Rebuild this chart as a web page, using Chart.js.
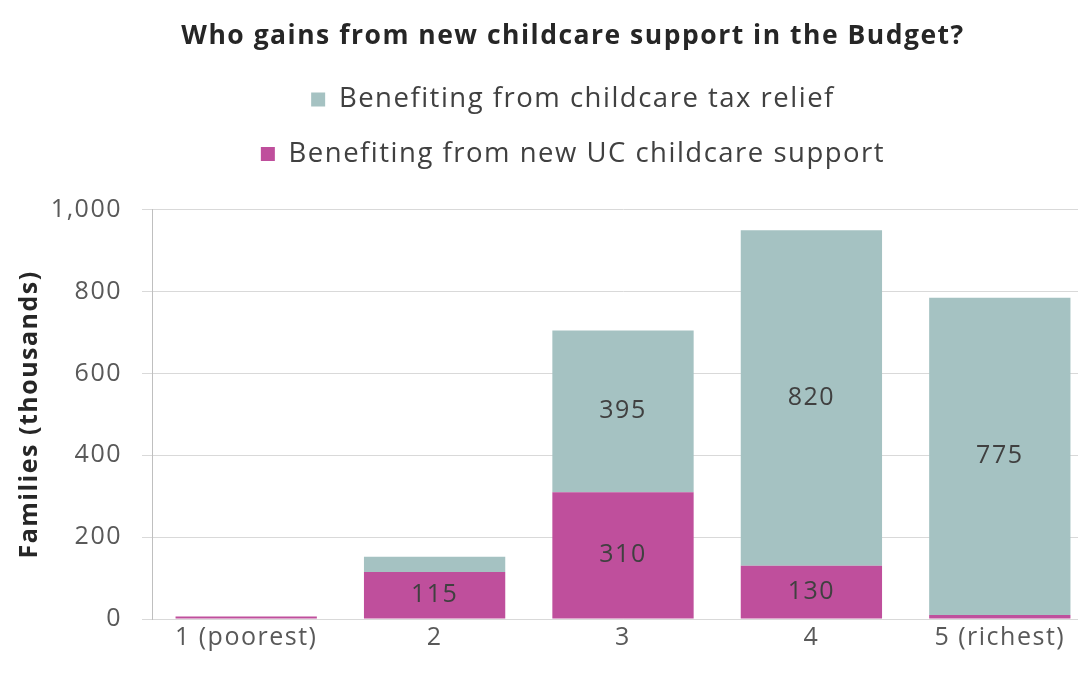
<!DOCTYPE html>
<html>
<head>
<meta charset="utf-8">
<script src="https://cdn.jsdelivr.net/npm/chart.js@4"></script>
<style>
  html, body { margin: 0; padding: 0; background: #fff; overflow: hidden; }
</style>
</head>
<body>
<canvas id="budgetChart" width="1100" height="674"></canvas>
<script>
const quintiles = ["1 (poorest)", "2", "3", "4", "5 (richest)"];
const ucSupport = [6, 115, 310, 130, 10];
const taxRelief = [0, 37, 395, 820, 775];
const yTicks = [0, 200, 400, 600, 800, 1000];

const FONT = "'Open Sans', sans-serif";

// the original uses a wide, loosely spaced face
const spacing = {
    id: "spacing",
    beforeUpdate(chart) { chart.ctx.letterSpacing = "1.5px"; },
    beforeDraw(chart) { chart.ctx.letterSpacing = "1.5px"; }
};

// writes the segment values in the middle of the bigger bars
const barLabels = {
    id: "barLabels",
    afterDatasetsDraw(chart) {
        const ctx = chart.ctx;
        ctx.save();
        ctx.font = "25px " + FONT;
        ctx.fillStyle = "#404040";
        ctx.textAlign = "center";
        ctx.textBaseline = "middle";
        chart.data.datasets.forEach((ds, i) => {
            chart.getDatasetMeta(i).data.forEach((bar, j) => {
                const v = ds.data[j];
                if (v < 100) return;
                const p = bar.getProps(["x", "y", "base"], true);
                ctx.fillText(v, p.x, (p.y + p.base) / 2);
            });
        });
        ctx.restore();
    }
};

new Chart(document.getElementById("budgetChart").getContext("2d"), {
    type: "bar",
    data: {
        labels: quintiles,
        datasets: [
            {
                label: "Benefiting from new UC childcare support",
                data: ucSupport,
                backgroundColor: "#bf4f9c",
                borderWidth: 0
            },
            {
                label: "Benefiting from childcare tax relief",
                data: taxRelief,
                backgroundColor: "#a5c2c2",
                borderWidth: 0
            }
        ]
    },
    options: {
        responsive: false,
        animation: false,
        layout: { padding: { left: 52, right: 6, top: 0, bottom: 17 } },
        datasets: { bar: { categoryPercentage: 1, barPercentage: 0.75 } },
        plugins: {
            title: {
                display: true,
                text: "Who gains from new childcare support in the Budget?",
                color: "#262626",
                font: { family: FONT, size: 26.5, weight: "bold" },
                padding: { top: 21, bottom: 6 }
            },
            // empty box between the legend and the plot, just for spacing
            subtitle: {
                display: true,
                text: "",
                weight: 500,
                font: { size: 10, lineHeight: 1 },
                padding: { top: 0, bottom: 22 }
            },
            legend: {
                reverse: true,
                labels: {
                    color: "#404040",
                    font: { family: FONT, size: 27.5 },
                    boxWidth: 14,
                    boxHeight: 14,
                    padding: 27
                }
            },
            tooltip: { enabled: false }
        },
        scales: {
            x: {
                stacked: true,
                grid: { display: false, drawTicks: false },
                border: { display: true, color: "#d9d9d9" },
                ticks: { color: "#595959", font: { family: FONT, size: 25 }, padding: 4 }
            },
            y: {
                stacked: true,
                min: 0,
                max: 1000,
                afterBuildTicks: (scale) => { scale.ticks = yTicks.map(v => ({ value: v })); },
                afterFit: (scale) => { scale.width = 100; },
                grid: { color: "#d9d9d9", tickLength: 10 },
                border: { color: "#bfbfbf" },
                ticks: { color: "#595959", font: { family: FONT, size: 25 }, padding: 20 },
                title: {
                    display: true,
                    text: "Families (thousands)",
                    color: "#262626",
                    font: { family: FONT, size: 25, weight: "bold" },
                    padding: { top: -37, bottom: 0 }
                }
            }
        }
    },
    plugins: [spacing, barLabels]
});
</script>
</body>
</html>
